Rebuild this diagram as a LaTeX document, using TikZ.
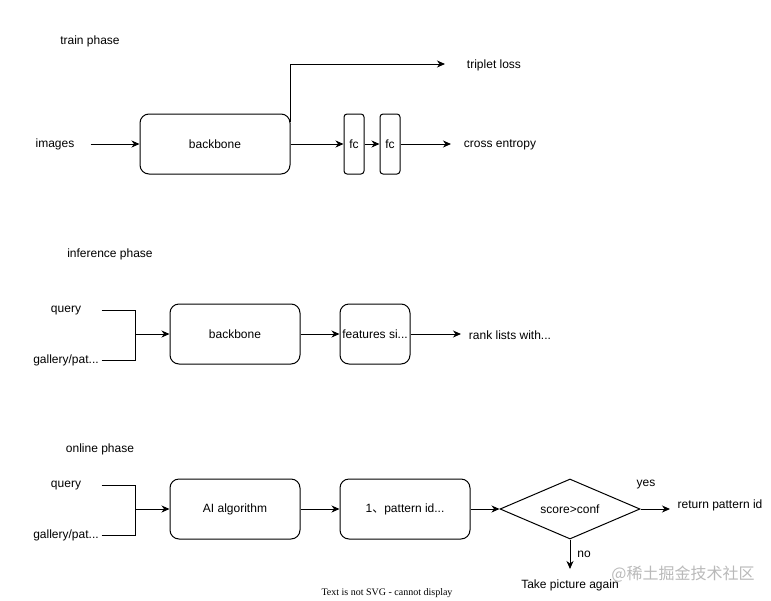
\documentclass[tikz,border=0pt]{standalone}
\usepackage{fontspec}
\setmainfont{Liberation Sans}
\newfontfamily\notefont{Liberation Serif}
\newfontfamily\cjkfont{Noto Sans CJK SC}
\usetikzlibrary{positioning,arrows.meta,shapes.geometric}

\begin{document}
\begin{tikzpicture}[x=1pt,y=-1pt,font=\fontsize{12}{14}\selectfont,
  line width=1pt,>={Stealth[length=8pt,width=7pt,inset=2.5pt]},
  lbl/.style={inner sep=0pt,yshift=-1pt},
  src/.style={inner sep=0pt,minimum width=70pt,yshift=-1.5pt},
  block/.style={draw,rounded corners=9pt,minimum width=130pt,minimum height=60pt,inner sep=0pt},
  fcbox/.style={draw,rounded corners=3pt,minimum width=20pt,minimum height=60pt,inner sep=0pt},
  decision/.style={draw,diamond,aspect=2.33,minimum width=140pt,minimum height=60pt,inner sep=0pt}]
\useasboundingbox (0,0) rectangle (771,600);
% train phase
\node[lbl] (trainlbl) at (90,40) {train phase};
\node[src,yshift=1.5pt] (images) at (55,144) {images};
\node[block,minimum width=150pt] (bb1) at (215,144) {backbone};
\node[fcbox] (fc1) at (354,144) {fc};
\node[fcbox] (fc2) at (390,144) {fc};
\node[lbl] (triplet) at (494,64) {triplet loss};
\node[lbl] (ce) at (500,144) {cross entropy};
\coordinate (tripletin) at (445,64);
\coordinate (cein) at (451,144);
\draw[->] (images.east) -- (bb1.west);
\draw[->] ([yshift=22pt]bb1.east) |- (tripletin);
\draw[->] (bb1.east) -- (fc1.west);
\draw[->] (fc1.east) -- (fc2.west);
\draw[->] (fc2.east) -- (cein);
% inference phase
\node[lbl] (inflbl) at (110,253) {inference phase};
\node[src] (query2) at (66,309) {query};
\node[src] (gallery2) at (66,359) {gallery/pat...};
\node[block] (bb2) at (235,334) {backbone};
\node[block,minimum width=70pt] (feat) at (375,334) {features si...};
\node[lbl] (rank) at (510,334) {rank lists with...};
\coordinate (join2) at (135,334);
\coordinate (rankin) at (461,334);
\draw (query2.east) -| (join2);
\draw (gallery2.east) -| (join2);
\draw[->] (join2) -- (bb2.west);
\draw[->] (bb2.east) -- (feat.west);
\draw[->] (feat.east) -- (rankin);
% online phase
\node[lbl] (onlinelbl) at (100,448) {online phase};
\node[src] (query3) at (66,484) {query};
\node[src] (gallery3) at (66,534) {gallery/pat...};
\node[block] (algo) at (235,509) {AI algorithm};
\node[block] (pid) at (405,509) {1{\cjkfont 、}pattern id...};
\node[decision] (check) at (570,509) {score>conf};
\node[lbl] (ret) at (720,504) {return pattern id};
\node[lbl] (yes) at (646,484) {yes};
\node[lbl] (no) at (584,553) {no};
\node[lbl] (again) at (570,584) {Take picture again};
\coordinate (join3) at (135,509);
\coordinate (retin) at (670,509);
\coordinate (againin) at (570,569);
\draw (query3.east) -| (join3);
\draw (gallery3.east) -| (join3);
\draw[->] (join3) -- (algo.west);
\draw[->] (algo.east) -- (pid.west);
\draw[->] (pid.east) -- (check.west);
\draw[->] (check.east) -- (retin);
\draw[->] (check.south) -- (againin);
% notes
\node[lbl,font=\notefont\fontsize{10}{11}\selectfont] (svgnote) at (387,592) {Text is not SVG - cannot display};
\node[lbl,text=gray!55,font=\cjkfont\fontsize{16}{18}\selectfont] (mark) at (683,573) {@稀土掘金技术社区};
\end{tikzpicture}
\end{document}
